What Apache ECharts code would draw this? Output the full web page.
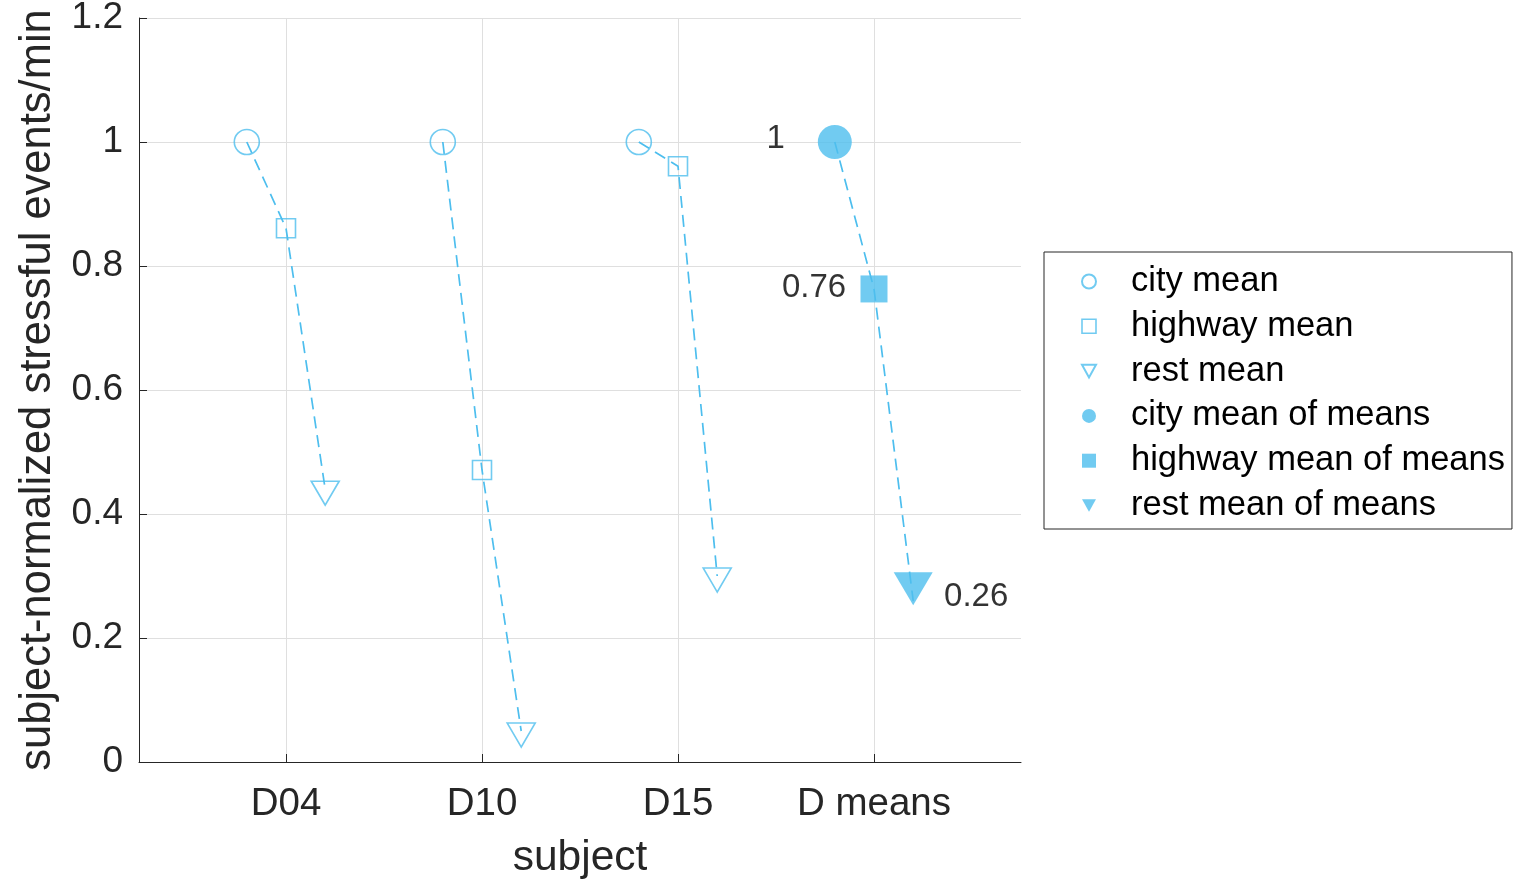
<!DOCTYPE html>
<html>
<head>
<meta charset="utf-8">
<title>stressful events</title>
<script src="https://cdn.jsdelivr.net/npm/echarts@6/dist/echarts.min.js"></script>
<style>
  html, body { margin: 0; padding: 0; background: #fff; }
  #chart { width: 1519px; height: 881px; }
</style>
</head>
<body>
<div id="chart"></div>
<script>
// subjects on the x axis
var subjects = ["D04", "D10", "D15", "D means"];
// per-subject means (subject-normalized)
var cityMean = [1, 1, 1];
var highwayMean = [0.861, 0.471, 0.961];
var restMean = [0.44, 0.05, 0.30];
// mean of means (last column)
var meansOfMeans = [1, 0.763, 0.26];
var yTicks = [0, 0.2, 0.4, 0.6, 0.8, 1, 1.2];

var BLUE = "#4DBEEE";
var TXT = "#262626";
var FONT = "Liberation Sans, Arial, Helvetica, sans-serif";
var OFF = 0.2; // horizontal shift of city / rest markers
var DOWN_TRI = "path://M0,0 L10,0 L5,9 Z";

function pts(vals, shift) {
  return vals.map(function (v, i) { return [i + 1 + shift, v]; });
}

var series = [];

// dashed connection city -> highway -> rest for every subject
subjects.forEach(function (s, i) {
  var c, h, r;
  if (i < 3) { c = cityMean[i]; h = highwayMean[i]; r = restMean[i]; }
  else { c = meansOfMeans[0]; h = meansOfMeans[1]; r = meansOfMeans[2]; }
  series.push({
    type: "line",
    silent: true,
    showSymbol: false,
    z: 2,
    lineStyle: { color: BLUE, width: 1.7, type: [12, 7] },
    data: [[i + 1 - OFF, c], [i + 1, h], [i + 1 + OFF, r]]
  });
});

var hollow = { color: "rgba(0,0,0,0)", borderColor: BLUE, borderWidth: 1.6 };
var filled = { color: BLUE };

function meanLabel(dx, dy) {
  return {
    show: true,
    position: "inside",
    offset: [dx, dy],
    color: "#000",
    fontFamily: FONT,
    fontSize: 33,
    formatter: function (p) { return String(+p.value[1].toFixed(2)); }
  };
}

series.push(
  { name: "city mean", type: "scatter", z: 3, symbol: "circle", symbolSize: 25,
    itemStyle: hollow, data: pts(cityMean, -OFF) },
  { name: "highway mean", type: "scatter", z: 3, symbol: "rect", symbolSize: 19,
    itemStyle: hollow, data: pts(highwayMean, 0) },
  { name: "rest mean", type: "scatter", z: 3, symbol: "triangle", symbolRotate: 180,
    symbolSize: [28, 24], symbolOffset: [0, 4], itemStyle: hollow, data: pts(restMean, OFF) },
  { name: "city mean of means", type: "scatter", z: 3, symbol: "circle", symbolSize: 34,
    itemStyle: filled, label: meanLabel(-59, -3),
    data: [[4 - OFF, meansOfMeans[0]]] },
  { name: "highway mean of means", type: "scatter", z: 3, symbol: "rect", symbolSize: 27,
    itemStyle: filled, label: meanLabel(-60, -1),
    data: [[4, meansOfMeans[1]]] },
  { name: "rest mean of means", type: "scatter", z: 3, symbol: "triangle", symbolRotate: 180,
    symbolSize: [39, 33], symbolOffset: [0, -12], itemStyle: filled,
    label: meanLabel(63, 8),
    data: [[4 + OFF, meansOfMeans[2]]] }
);

var chart = echarts.init(document.getElementById("chart"), null, { renderer: "canvas" });
chart.setOption({
  animation: false,
  backgroundColor: "#fff",
  textStyle: { fontFamily: FONT },
  grid: { left: 139, top: 18, right: 498, bottom: 119, containLabel: false, outerBoundsMode: "none" },
  legend: {
    orient: "vertical",
    left: 1044,
    top: 252,
    padding: [12, 7, 6, 37],
    itemGap: 9.8,
    itemWidth: 14,
    itemHeight: 14,
    borderColor: TXT,
    borderWidth: 1,
    backgroundColor: "#fff",
    textStyle: { fontFamily: FONT, fontSize: 34.5, color: "#000", padding: [0, 0, 0, 30] },
    data: [
      { name: "city mean", icon: "circle" },
      { name: "highway mean", icon: "rect", itemStyle: { borderWidth: 1.6 } },
      { name: "rest mean", icon: DOWN_TRI },
      { name: "city mean of means", icon: "circle", itemStyle: { color: BLUE } },
      { name: "highway mean of means", icon: "rect" },
      { name: "rest mean of means", icon: DOWN_TRI }
    ]
  },
  xAxis: {
    type: "value",
    min: 0.25,
    max: 4.75,
    name: "subject",
    nameLocation: "middle",
    nameGap: 75,
    nameTextStyle: { fontFamily: FONT, fontSize: 42.5, color: TXT },
    axisLine: { show: true, onZero: false, lineStyle: { color: TXT, width: 1 } },
    axisTick: { show: true, inside: true, length: 8, customValues: [1, 2, 3, 4], lineStyle: { color: TXT } },
    axisLabel: {
      customValues: [1, 2, 3, 4],
      margin: 23,
      fontFamily: FONT, fontSize: 38.5, color: TXT,
      formatter: function (v) { return subjects[Math.round(v) - 1] || ""; }
    },
    splitLine: { show: true, lineStyle: { color: "#DFDFDF", width: 1 } }
  },
  yAxis: {
    type: "value",
    min: 0,
    max: 1.2,
    interval: 0.2,
    name: "subject-normalized stressful events/min",
    nameLocation: "middle",
    nameGap: 79,
    nameTextStyle: { fontFamily: FONT, fontSize: 43.5, color: TXT },
    axisLine: { show: true, lineStyle: { color: TXT, width: 1 } },
    axisTick: { show: true, inside: true, length: 8, lineStyle: { color: TXT } },
    axisLabel: {
      margin: 16,
      fontFamily: FONT, fontSize: 37, color: TXT,
      formatter: function (v) {
        var t = yTicks.find(function (k) { return Math.abs(k - v) < 1e-6; });
        return t === undefined ? "" : String(t);
      }
    },
    splitLine: { show: true, lineStyle: { color: "#DFDFDF", width: 1 } }
  },
  series: series
});
</script>
</body>
</html>
